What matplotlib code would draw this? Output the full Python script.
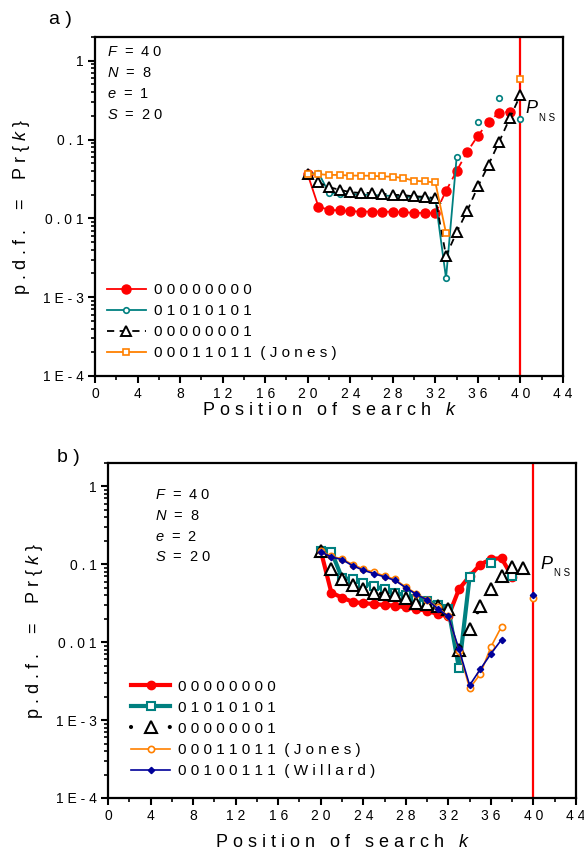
import numpy as np
import matplotlib
matplotlib.use('Agg')
import matplotlib.pyplot as plt
from matplotlib.ticker import FixedLocator, MultipleLocator, LogLocator, NullFormatter

plt.rcParams['font.family'] = ['Liberation Sans', 'DejaVu Sans']
plt.rcParams['mathtext.fontset'] = 'custom'
plt.rcParams['mathtext.rm'] = 'Liberation Sans'
plt.rcParams['mathtext.it'] = 'Liberation Sans:italic'

nan = np.nan
pos = np.arange(20, 41)

# panel a  (F=40, N=8, e=1, S=20)
a_00000000 = [0.036, 0.0141, 0.0128, 0.0126, 0.0123, 0.0122, 0.0122, 0.0122, 0.0121, 0.0119, 0.0118,
              0.0117, 0.0116, 0.0223, 0.040, 0.070, 0.112, 0.168, 0.220, 0.225, nan]
a_01010101 = [0.036, 0.038, 0.0209, 0.0205, 0.0203, 0.0200, 0.0198, 0.0195, 0.0192, 0.0189, 0.0185,
              0.0181, 0.0175, 0.00174, 0.060, nan, 0.166, nan, 0.336, nan, 0.183]
a_00000001 = [0.036, 0.0285, 0.0249, 0.023, 0.0215, 0.021, 0.021, 0.0205, 0.0199, 0.0197, 0.019,
              0.0188, 0.018, 0.00334, 0.00667, 0.0125, 0.0254, 0.048, 0.094, 0.187, 0.37]
a_jones = [0.0363, 0.0363, 0.0356, 0.0355, 0.0349, 0.0348, 0.0347, 0.034, 0.0338, 0.0324, 0.030,
           0.0294, 0.0285, 0.0065, nan, nan, nan, nan, nan, nan, 0.59]

# panel b  (F=40, N=8, e=2, S=20)
b_00000000 = [0.15, 0.0433, 0.0374, 0.033, 0.0316, 0.031, 0.030, 0.0295, 0.0279, 0.0267, 0.0253,
              0.023, 0.0215, 0.048, 0.0705, 0.099, 0.117, 0.12, 0.069, nan, nan]
b_01010101 = [0.15, 0.146, 0.067, 0.064, 0.058, 0.0525, 0.048, 0.043, 0.040, 0.036, 0.034,
              0.030, 0.0267, 0.0046, 0.069, nan, 0.104, nan, 0.0705, nan, nan]
b_00000001 = [0.15, 0.087, 0.065, 0.055, 0.048, 0.043, 0.041, 0.040, 0.037, 0.032, 0.031,
              0.029, 0.027, 0.00785, 0.0148, 0.0288, 0.048, 0.0705, 0.093, 0.090, nan]
b_jones = [0.15, 0.126, 0.118, 0.099, 0.087, 0.079, 0.071, 0.064, 0.051, 0.042, 0.035,
           0.028, 0.0215, 0.0078, 0.00256, 0.0039, 0.0087, 0.0159, nan, nan, 0.0367]
b_willard = [0.145, 0.124, 0.115, 0.096, 0.084, 0.076, 0.069, 0.062, 0.050, 0.041, 0.035,
             0.027, 0.0214, 0.0081, 0.0028, 0.0045, 0.0071, 0.0108, nan, nan, 0.040]

xticks = [0, 4, 8, 12, 16, 20, 24, 28, 32, 36, 40, 44]
xticklabels = ['0', '4', '8', '1 2', '1 6', '2 0', '2 4', '2 8', '3 2', '3 6', '4 0', '4 4']
yticks = [1e-4, 1e-3, 1e-2, 1e-1, 1]
yticklabels = ['1 E - 4', '1 E - 3', '0 . 0 1', '0 . 1', '1']

RED = '#ff0000'
TEAL = '#008080'
ORANGE = '#ff8000'
NAVY = '#000099'

fig = plt.figure(figsize=(5.84, 8.52), dpi=100)
ax1 = fig.add_axes([0.1627, 0.5587, 0.8014, 0.3979])
ax2 = fig.add_axes([0.1849, 0.0634, 0.8014, 0.3932])

params_x = {ax1: 0.026, ax2: 0.10}
params_y = {ax1: 0.957, ax2: 0.904}


def style(ax, params, xpad):
    ax.set_yscale('log')
    ax.set_xlim(0, 44)
    ax.set_ylim(1e-4, 2)
    ax.xaxis.set_major_locator(FixedLocator(xticks))
    ax.set_xticklabels(xticklabels, fontsize=10)
    ax.xaxis.set_minor_locator(MultipleLocator(2))
    ax.yaxis.set_major_locator(FixedLocator(yticks))
    ax.set_yticklabels(yticklabels, fontsize=10)
    ax.yaxis.set_minor_locator(LogLocator(base=10, subs=np.arange(2, 10)))
    ax.yaxis.set_minor_formatter(NullFormatter())
    ax.tick_params(which='major', direction='out', length=5, width=1.5, pad=3)
    ax.tick_params(which='minor', direction='out', length=3, width=1.2)
    for s in ax.spines.values():
        s.set_linewidth(1.6)
    ax.axvline(40, color=RED, lw=1.6, zorder=1)
    ax.set_xlabel('P o s i t i o n   o f   s e a r c h   $k$', fontsize=13, labelpad=xpad)
    ax.set_ylabel('p . d . f .    =    P r { $k$ }', fontsize=13, labelpad=8)
    for i, t in enumerate(params):
        ax.text(params_x[ax], params_y[ax] - i * 0.062, t, transform=ax.transAxes,
                fontsize=10.5, va='center', ha='left')


leg_kw = dict(loc='lower left', frameon=False, fontsize=11, numpoints=1, handlelength=2.55,
              handletextpad=0.52, labelspacing=0.46, borderpad=0, borderaxespad=0)

# ---- panel a
red1 = np.array(a_00000000)
ax1.plot(pos[:13], red1[:13], '-', color=RED, lw=1.3, marker='o', ms=6.5, mec=RED, mfc=RED,
         label='0 0 0 0 0 0 0 0')
ax1.plot(pos[12:], red1[12:], '--', color=RED, lw=1.3, marker='o', ms=6.5, mec=RED, mfc=RED,
         dashes=(4, 3), markevery=list(range(1, 8)))
ax1.plot(pos, a_01010101, '-', color=TEAL, lw=1.3, marker='o', ms=4, mfc='white', mec=TEAL, mew=1.2,
         label='0 1 0 1 0 1 0 1')
ax1.plot(pos, a_00000001, '--', color='black', lw=1.3, dashes=(4, 3), marker='^', ms=7.5, mfc='white',
         mec='black', mew=1.4, label='0 0 0 0 0 0 0 1')
ax1.plot(pos, a_jones, '-', color=ORANGE, lw=1.3, marker='s', ms=4.5, mfc='white', mec=ORANGE, mew=1.2,
         label='0 0 0 1 1 0 1 1  ( J o n e s )')
style(ax1, ['$F$  =  4 0', '$N$  =  8', '$e$  =  1', '$S$  =  2 0'], 1)
ax1.text(40.4, 0.25, '$P$', fontsize=13, va='center')
ax1.text(41.7, 0.19, 'N S', fontsize=7, va='center')
ax1.legend(bbox_to_anchor=(0.025, 0.047), **leg_kw)

# ---- panel b
ax2.plot(pos, b_00000000, '-', color=RED, lw=3, marker='o', ms=6, mec=RED, mfc=RED,
         label='0 0 0 0 0 0 0 0')
ax2.plot(pos, b_01010101, '-', color=TEAL, lw=3, marker='s', ms=6, mfc='white', mec=TEAL, mew=1.5,
         label='0 1 0 1 0 1 0 1')
ax2.plot(pos, b_00000001, color='black', lw=3, linestyle=(0, (0.01, 9.3)), dash_capstyle='round',
         marker='^', ms=8.5, mfc='white', mec='black', mew=1.5, label='0 0 0 0 0 0 0 1')
ax2.plot(pos, b_jones, '-', color=ORANGE, lw=1.2, marker='o', ms=4.5, mfc='white', mec=ORANGE, mew=1.2,
         label='0 0 0 1 1 0 1 1  ( J o n e s )')
ax2.plot(pos, b_willard, '-', color=NAVY, lw=1.2, marker='D', ms=3.2, mfc=NAVY, mec=NAVY,
         label='0 0 1 0 0 1 1 1  ( W i l l a r d )')
style(ax2, ['$F$  =  4 0', '$N$  =  8', '$e$  =  2', '$S$  =  2 0'], 8)
ax2.text(40.6, 0.1, '$P$', fontsize=13, va='center')
ax2.text(41.9, 0.078, 'N S', fontsize=7, va='center')
ax2.legend(bbox_to_anchor=(0.05, 0.06), **leg_kw)

fig.text(60 / 584, 1 - 20 / 852, 'a )', fontsize=14, ha='center', va='center')
fig.text(68 / 584, 1 - 458 / 852, 'b )', fontsize=14, ha='center', va='center')

fig.savefig('out.png', dpi=100)
